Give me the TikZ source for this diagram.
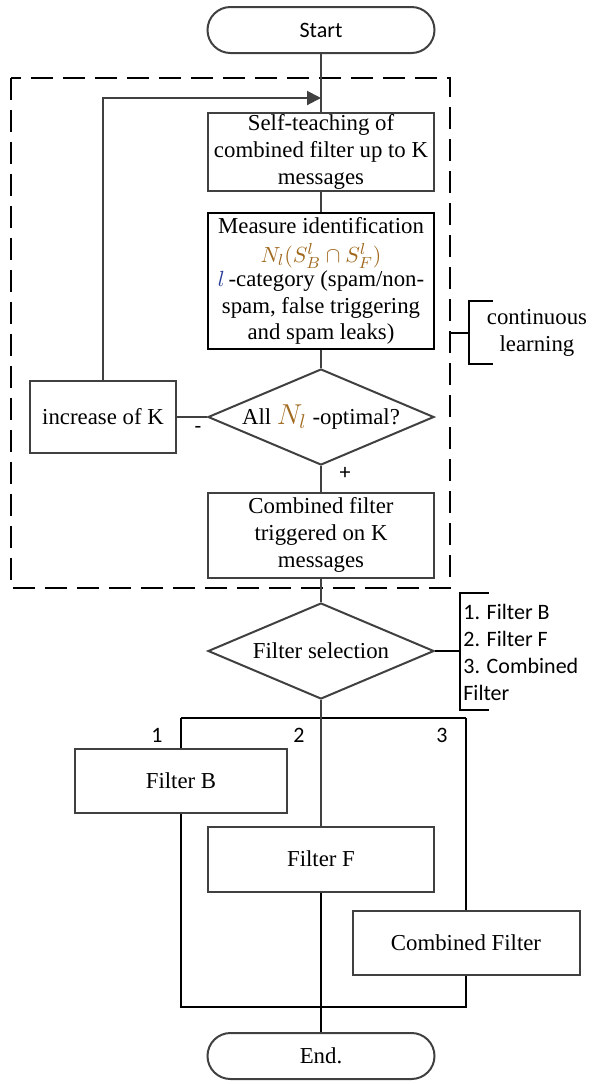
\documentclass[tikz,border=0pt]{standalone}
\usepackage{fontspec}
\setmainfont{Liberation Serif}
\setsansfont{Carlito}
\usetikzlibrary{shapes.geometric,arrows.meta}
\definecolor{linegray}{RGB}{64,64,64}
\definecolor{mathamber}{RGB}{160,105,30}
\definecolor{mathblue}{RGB}{40,60,150}
\begin{document}
\begin{tikzpicture}[x=0.5pt,y=-0.5pt,
    txt/.style={font=\fontsize{11.4}{13.3}\selectfont},
    sans/.style={font=\sffamily\fontsize{11}{13.5}\selectfont},
    box/.style={draw=linegray,line width=1pt,txt,align=center,inner sep=1pt},
    term/.style={box,rounded corners=11.5pt,minimum width=113.5pt,minimum height=23pt},
    decision/.style={diamond,draw=linegray,line width=1pt,txt,inner sep=0pt,
        aspect=2.35,minimum width=113pt,minimum height=48pt},
    conn/.style={draw=linegray,line width=1pt}]
    \useasboundingbox (0,0) rectangle (596,1084);

    % learning loop
    \draw[line width=1.1pt,dash pattern=on 11pt off 5pt] (11,78) rectangle (450,588);
    \node[term,sans] (start) at (321,30) {Start};
    \node[box,minimum width=113pt,minimum height=39pt] (teach) at (321,152)
        {Self-teaching of\\combined filter up to K\\messages};
    \node[box,draw=black,line width=1.4pt,minimum width=113pt,minimum height=68pt] (measure) at (321,281)
        {Measure identification\\[1pt]
         \textcolor{mathamber}{$N_l(S_B^l\cap S_F^l)$}\\[-1pt]
         \textcolor{mathblue}{$l$}\,-category (spam/non-\\
         spam, false triggering\\
         and spam leaks)};
    \node[decision] (ask) at (321,417)
        {All \textcolor{mathamber}{\fontsize{14}{14}\selectfont$N_l$} -optimal?};
    \node[box,minimum width=73pt,minimum height=36pt] (inc) at (103,417) {increase of K};
    \node[box,minimum width=113pt,minimum height=42.5pt] (trig) at (321,535)
        {Combined filter\\triggered on K\\messages};
    \coordinate (back) at (321,98);

    \draw[conn] (start) -- (teach);
    \draw[conn] (teach) -- (measure);
    \draw[conn] (measure) -- (ask);
    \draw[conn] (ask) -- (inc);
    \draw[conn] (ask) -- (trig);
    \draw[conn,-{Triangle[length=7pt,width=7pt]}] (inc.north) |- (back);
    \node[sans] (minus) at (198,430) {-};
    \node[sans] (plus) at (345,473) {+};

    % bracket of the loop
    \draw[line width=1pt] (450,333) -- (469,333);
    \draw[line width=1pt] (493,301) -- (469,301) -- (469,364) -- (493,364);
    \node[txt,align=center] (learn) at (537,333) {continuous\\learning};

    % filter selection
    \node[decision] (sel) at (321,651) {Filter selection};
    \draw[conn] (trig) -- (sel);
    \draw[line width=1pt] (sel.east) -- (460,651);
    \draw[line width=1pt] (489,593) -- (460,593) -- (460,710) -- (489,710);
    \node[sans,anchor=west,align=left,inner sep=0pt] (list) at (463,652)
        {1. Filter B\\2. Filter F\\3. Combined\\Filter};

    \node[box,minimum width=106pt,minimum height=32pt] (fb) at (181,781) {Filter B};
    \node[box,minimum width=113pt,minimum height=32.5pt] (ff) at (321,859) {Filter F};
    \node[box,minimum width=113.5pt,minimum height=32pt] (cf) at (466,943) {Combined Filter};
    \node[term] (end) at (321,1056) {End.};

    \coordinate (f1) at (181,718);
    \coordinate (f3) at (466,718);
    \coordinate (j1) at (181,1007);
    \coordinate (j3) at (466,1007);
    \draw[line width=1.1pt] (f1) -- (f3);
    \draw[line width=1.1pt] (f1) -- (fb.north);
    \draw[conn] (sel.south) -- (ff.north);
    \draw[line width=1.1pt] (f3) -- (cf.north);
    \draw[line width=1.1pt] (fb.south) -- (j1) -- (j3) -- (cf.south);
    \draw[line width=1.1pt] (ff.south) -- (end.north);
    \node[sans] (n1) at (157,735) {1};
    \node[sans] (n2) at (299,735) {2};
    \node[sans] (n3) at (442,735) {3};
\end{tikzpicture}
\end{document}
